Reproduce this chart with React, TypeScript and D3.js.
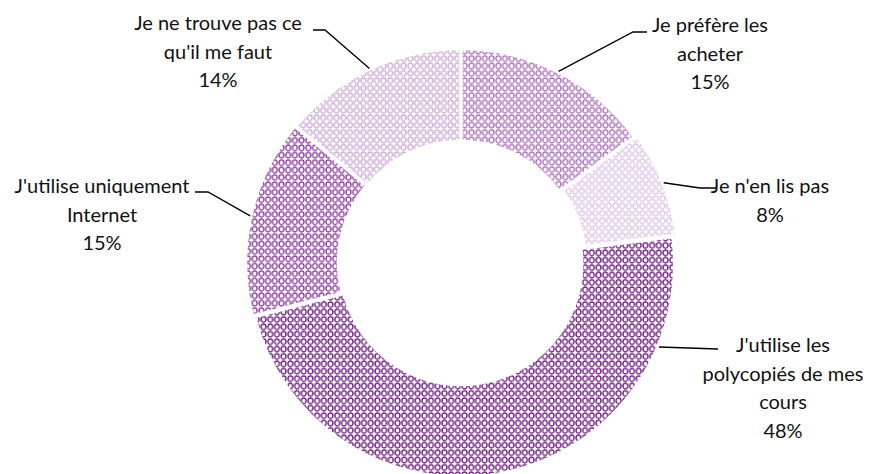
import { useMemo } from 'react'
import * as d3 from 'd3'

// ── data ─────────────────────────────────────────────────────────────────────
const LABELS = [
  ['Je préfère les', 'acheter'],
  ["Je n'en lis pas"],
  ["J'utilise les", 'polycopiés de mes', 'cours'],
  ["J'utilise uniquement", 'Internet'],
  ['Je ne trouve pas ce', "qu'il me faut"],
]
const VALUES = [15, 8, 48, 15, 14]

// ── style / layout ───────────────────────────────────────────────────────────
const W = 875
const H = 474
const CX = 461
const CY = 263
const R_OUT = 213
const R_IN = 121
const COLORS = ['#ae6fbe', '#dec5e4', '#6e1a80', '#8d3c9f', '#cfaad8']
const EXPLODE = [1, 4, 1, 2, 1]
const FONT = 'Lato, "Noto Sans", sans-serif'
const LH = 28.5
// label anchor (centre x, first baseline), elbow point, leader angle override
const LAYOUT = [
  { tx: 710, ty: 32, ex: 647, ey: 32, hx: 633, ang: null as number | null },
  { tx: 770, ty: 193, ex: 716, ey: 188, hx: 700, ang: null },
  { tx: 783, ty: 352, ex: 718, ey: 349, hx: 718, ang: 113 },
  { tx: 102, ty: 193, ex: 195, ey: 192, hx: 208, ang: null },
  { tx: 218, ty: 30, ex: 313, ey: 30, hx: 325, ang: null },
]

export default function App() {
  const arcs = useMemo(() =>
    d3.pie<number>().sort(null).value(d => d)(VALUES),
  [])
  const arc = d3.arc<d3.PieArcDatum<number>>().innerRadius(R_IN).outerRadius(R_OUT)

  return (
    <svg width={W} height={H} style={{ position: 'absolute', left: 0, top: 0, display: 'block' }}>
      <defs>
        {COLORS.map((c, i) => (
          <pattern key={i} id={`pat${i}`} patternUnits="userSpaceOnUse" width={6.7} height={7.4}>
            <rect width={6.7} height={7.4} fill="#fff" />
            <ellipse cx={3.35} cy={3.7} rx={2.4} ry={2.7} fill="none" stroke={c} strokeWidth={1.35} />
          </pattern>
        ))}
      </defs>
      <rect width={W} height={H} fill="#fff" />

      {arcs.map((a, i) => {
        const mid = (a.startAngle + a.endAngle) / 2
        const dx = Math.sin(mid) * EXPLODE[i]
        const dy = -Math.cos(mid) * EXPLODE[i]
        return (
          <path key={i}
            d={arc(a) ?? ''}
            transform={`translate(${CX + dx},${CY + dy})`}
            fill={`url(#pat${i})`}
            stroke="#fff" strokeWidth={2.5} strokeLinejoin="miter" />
        )
      })}

      {arcs.map((a, i) => {
        const L = LAYOUT[i]
        const ang = L.ang != null ? (L.ang * Math.PI) / 180 : (a.startAngle + a.endAngle) / 2
        const r = R_OUT + EXPLODE[i] + 1
        const sx = CX + Math.sin(ang) * r
        const sy = CY - Math.cos(ang) * r
        const lines = [...LABELS[i], `${VALUES[i]}%`]
        return (
          <g key={i}>
            <polyline
              points={`${sx},${sy} ${L.hx},${L.ey} ${L.ex},${L.ey}`}
              fill="none" stroke="#000" strokeWidth={1.3} />
            <text x={L.tx} y={L.ty} textAnchor="middle" fontFamily={FONT} fontSize={20} fill="#111">
              {lines.map((t, j) => (
                <tspan key={j} x={L.tx} dy={j === 0 ? 0 : LH}>{t}</tspan>
              ))}
            </text>
          </g>
        )
      })}
    </svg>
  )
}
